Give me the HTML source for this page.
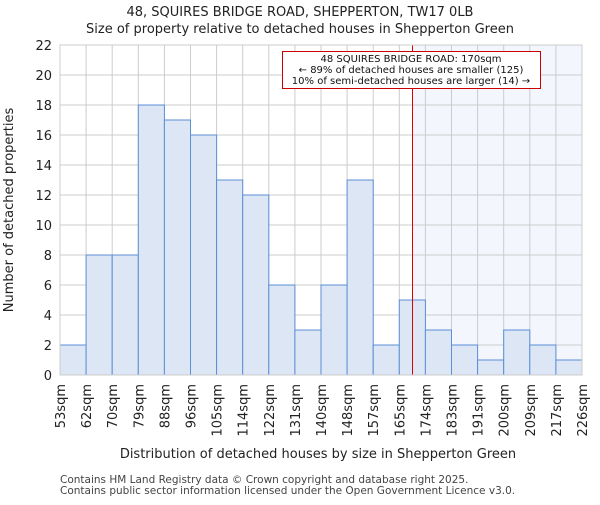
<!DOCTYPE html>
<html><head><meta charset="utf-8"><style>body{margin:0;background:#fff}svg text{font-family:"DejaVu Sans","Liberation Sans",sans-serif}</style></head>
<body>
<svg id="c" width="600" height="500" xmlns="http://www.w3.org/2000/svg"></svg>
<script>
const categories=["53sqm","62sqm","70sqm","79sqm","88sqm","96sqm","105sqm","114sqm","122sqm","131sqm","140sqm","148sqm","157sqm","165sqm","174sqm","183sqm","191sqm","200sqm","209sqm","217sqm","226sqm"];
const counts=[2,8,8,18,17,16,13,12,6,3,6,13,2,5,3,2,1,3,2,1];
const yTicks=[0,2,4,6,8,10,12,14,16,18,20,22];
const markerIndex=13.5;
const svg=document.getElementById('c');const NS="http://www.w3.org/2000/svg";
const L=60,R=582,T=45,B=375,yMax=22;
const xs=i=>L+i*(R-L)/counts.length;
const ys=v=>B-v*(B-T)/yMax;
function mk(t,a,txt){const e=document.createElementNS(NS,t);for(const k in a)e.setAttribute(k,a[k]);if(txt!==undefined)e.textContent=txt;svg.appendChild(e);return e;}
const mx=Math.round(xs(markerIndex))+0.5;
const bg=mk('rect',{x:mx,y:T,width:R-mx,height:B-T,fill:'#f3f6fd'});

yTicks.forEach(v=>{const g=mk('line',{x1:L,x2:R,y1:ys(v),y2:ys(v),stroke:'#cccccc','stroke-width':1});

const t=mk('text',{x:L-8,y:ys(v)+5,'text-anchor':'end','font-size':13,fill:'#222'},v);
});
categories.forEach((c,i)=>{const g=mk('line',{x1:xs(i),x2:xs(i),y1:T,y2:B,stroke:'#cccccc','stroke-width':1});

const t=mk('text',{transform:`translate(${xs(i)+5},384) rotate(-90)`,'text-anchor':'end','font-size':13,fill:'#222'},c);
});
counts.forEach((v,i)=>{const r=mk('rect',{x:xs(i),y:ys(v),width:xs(i+1)-xs(i),height:B-ys(v),fill:'#dce6f4',stroke:'#5b8fd6','stroke-width':1});
});
const ml=mk('line',{x1:mx,x2:mx,y1:T,y2:B,stroke:'#dd0000','stroke-width':1});

const box=mk('rect',{x:282.5,y:51.5,width:258,height:37,fill:'#fff',stroke:'#cc0000','stroke-width':1});

["48 SQUIRES BRIDGE ROAD: 170sqm","← 89% of detached houses are smaller (125)","10% of semi-detached houses are larger (14) →"].forEach((s,i)=>{
const t=mk('text',{x:411,y:62+i*11,'text-anchor':'middle','font-size':10,fill:'#111'},s);
});
const ax=mk('rect',{x:L,y:T,width:R-L,height:B-T,fill:'none',stroke:'#cccccc'});

const t1=mk('text',{x:300,y:16,'text-anchor':'middle','font-size':13,fill:'#222'},"48, SQUIRES BRIDGE ROAD, SHEPPERTON, TW17 0LB");

const t2=mk('text',{x:300,y:33,'text-anchor':'middle','font-size':13,fill:'#222'},"Size of property relative to detached houses in Shepperton Green");

const xt=mk('text',{x:318,y:458,'text-anchor':'middle','font-size':13,fill:'#222'},"Distribution of detached houses by size in Shepperton Green");

const yt=mk('text',{transform:'translate(13,210) rotate(-90)','text-anchor':'middle','font-size':13,fill:'#222'},"Number of detached properties");

const f1=mk('text',{x:60,y:483,'font-size':10.5,fill:'#444'},"Contains HM Land Registry data © Crown copyright and database right 2025.");

const f2=mk('text',{x:60,y:494,'font-size':10.5,fill:'#444'},"Contains public sector information licensed under the Open Government Licence v3.0.");

</script>
</body></html>
